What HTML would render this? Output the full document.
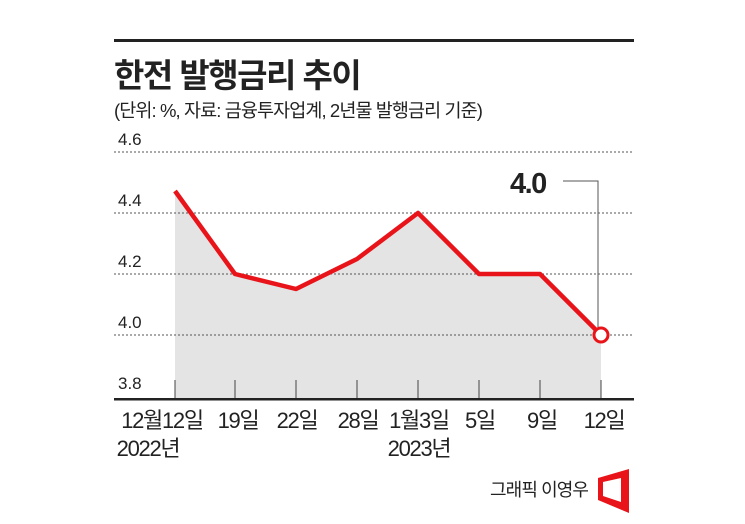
<!DOCTYPE html>
<html><head><meta charset="utf-8"><style>
body{margin:0;background:#fff;}
svg text{font-family:"Liberation Sans","Noto Sans CJK KR",sans-serif;fill:#222;}
</style></head><body>
<svg width="745" height="519" xmlns="http://www.w3.org/2000/svg">
<rect x="114" y="39" width="520" height="3" fill="#222"/>
<text x="114" y="87" font-size="33" font-weight="bold" letter-spacing="-1.5">한전 발행금리 추이</text>
<text x="114" y="117" font-size="18.5" letter-spacing="-0.9">(단위: %, 자료: 금융투자업계, 2년물 발행금리 기준)</text>
<polygon points="175,191 235,274 296,289 357,259 418,213 479,274 540,274 601,335 601,399 175,399" fill="#e4e4e4"/>
<g stroke="#555" stroke-width="1" stroke-dasharray="2,2">
<line x1="114" y1="152" x2="634" y2="152"/>
<line x1="114" y1="213" x2="634" y2="213"/>
<line x1="114" y1="274" x2="634" y2="274"/>
<line x1="114" y1="335" x2="634" y2="335"/>
</g>
<g font-size="17">
<text x="118" y="145">4.6</text>
<text x="118" y="206">4.4</text>
<text x="118" y="267">4.2</text>
<text x="118" y="328">4.0</text>
<text x="118" y="389">3.8</text>
</g>
<g stroke="#444" stroke-width="1">
<line x1="175" y1="380" x2="175" y2="399"/><line x1="235" y1="380" x2="235" y2="399"/>
<line x1="296" y1="380" x2="296" y2="399"/><line x1="357" y1="380" x2="357" y2="399"/>
<line x1="418" y1="380" x2="418" y2="399"/><line x1="479" y1="380" x2="479" y2="399"/>
<line x1="540" y1="380" x2="540" y2="399"/><line x1="601" y1="380" x2="601" y2="399"/>
</g>
<rect x="114" y="398" width="520" height="2.5" fill="#222"/>
<g font-size="22" letter-spacing="-1.3" text-anchor="middle">
<text x="162" y="428">12월12일</text>
<text x="238" y="428">19일</text>
<text x="297" y="428">22일</text>
<text x="358" y="428">28일</text>
<text x="419" y="428">1월3일</text>
<text x="480" y="428">5일</text>
<text x="542" y="428">9일</text>
<text x="604" y="428">12일</text>
<text x="148" y="456">2022년</text>
<text x="419" y="456">2023년</text>
</g>
<polyline points="175,191 235,274 296,289 357,259 418,213 479,274 540,274 601,335" fill="none" stroke="#e8141a" stroke-width="4.5" stroke-linejoin="round"/>
<circle cx="601" cy="335" r="7" fill="#fff" stroke="#e8141a" stroke-width="3"/>
<polyline points="563,181 598,181 598,327" fill="none" stroke="#555" stroke-width="1"/>
<text x="510" y="193" font-size="29" font-weight="bold" letter-spacing="-1.5">4.0</text>
<text x="490" y="496" font-size="18" letter-spacing="-0.9">그래픽 이영우</text>
<path d="M598,478 L629,469 L629,513 L598,500 Z M603,482 L621,478 L621,502 L603,496 Z" fill="#e8141a" fill-rule="evenodd"/>
</svg>
</body></html>
